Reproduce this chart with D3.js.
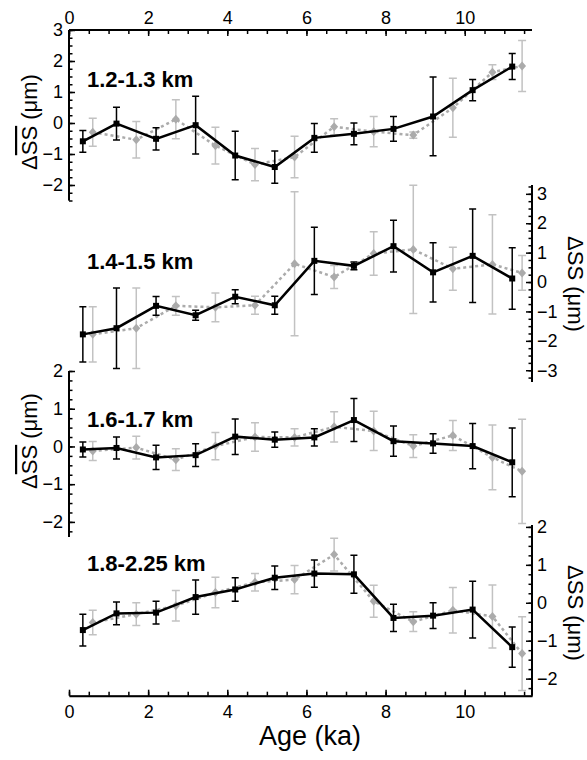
<!DOCTYPE html>
<html>
<head>
<meta charset="utf-8">
<script src="https://cdn.jsdelivr.net/npm/d3@7"></script>
<style>
  body { margin: 0; background: #fff; }
  svg { display: block; font-family: Arial, "Liberation Sans", sans-serif; }
</style>
</head>
<body>
<svg id="chart" width="587" height="760"></svg>
<script>
// ages of the two series (ka)
const ageBlack = [0.35, 1.2, 2.2, 3.2, 4.2, 5.2, 6.2, 7.2, 8.2, 9.2, 10.2, 11.2]
const ageGray = [0.6, 1.7, 2.7, 3.7, 4.7, 5.7, 6.7, 7.7, 8.7, 9.7, 10.7, 11.45]

const titles = ['1.2-1.3 km', '1.4-1.5 km', '1.6-1.7 km', '1.8-2.25 km']

// 1.2-1.3 km
const p1Black = [-0.59, -0.02, -0.51, -0.07, -1.05, -1.42, -0.48, -0.35, -0.19, 0.21, 1.06, 1.82]
const p1BlackErr = [0.35, 0.53, 0.36, 0.93, 0.78, 0.52, 0.46, 0.35, 0.4, 1.27, 0.34, 0.42]
const p1Gray = [-0.3, -0.54, 0.12, -0.73, -1.34, -1.1, -0.12, -0.28, -0.39, 0.49, 1.64, 1.84]
const p1GrayErr = [0.45, 0.59, 0.63, 0.59, 0.52, 0.67, 0.26, 0.49, 0.1, 0.95, 0.24, 0.82]

// 1.4-1.5 km
const p2Black = [-1.78, -1.57, -0.81, -1.13, -0.5, -0.79, 0.72, 0.55, 1.22, 0.33, 0.89, 0.12]
const p2BlackErr = [0.94, 1.37, 0.32, 0.17, 0.24, 0.31, 1.14, 0.13, 0.88, 1.01, 1.59, 1.05]
const p2Gray = [-1.78, -1.57, -0.81, -0.86, -0.79, 0.62, 0.17, 0.97, 1.11, 0.45, 0.6, 0.31]
const p2GrayErr = [0.94, 1.37, 0.32, 0.49, 0.31, 2.45, 0.39, 0.74, 2.18, 0.73, 1.69, 0.59]

// 1.6-1.7 km
const p3Black = [-0.08, -0.04, -0.29, -0.23, 0.26, 0.18, 0.24, 0.7, 0.14, 0.08, 0.01, -0.42]
const p3BlackErr = [0.2, 0.29, 0.32, 0.3, 0.47, 0.2, 0.23, 0.57, 0.4, 0.26, 0.6, 0.91]
const p3Gray = [-0.12, -0.03, -0.35, 0.01, 0.25, 0.24, 0.52, 0.41, 0.01, 0.29, -0.29, -0.66]
const p3GrayErr = [0.25, 0.3, 0.29, 0.36, 0.38, 0.23, 0.4, 0.52, 0.3, 0.4, 0.86, 1.38]

// 1.8-2.25 km
const p4Black = [-0.72, -0.28, -0.26, 0.15, 0.35, 0.66, 0.77, 0.75, -0.4, -0.34, -0.18, -1.17]
const p4BlackErr = [0.42, 0.3, 0.3, 0.45, 0.31, 0.31, 0.36, 0.5, 0.36, 0.34, 0.75, 0.53]
const p4Gray = [-0.52, -0.3, -0.08, 0.27, 0.54, 0.61, 1.27, 0.04, -0.5, -0.2, -0.36, -1.34]
const p4GrayErr = [0.32, 0.3, 0.4, 0.4, 0.23, 0.37, 0.43, 0.42, 0.26, 0.6, 0.83, 0.97]

const xTicks = [0, 2, 4, 6, 8, 10]
const yTicks1 = [-2, -1, 0, 1, 2, 3]
const yTicks2 = [-3, -2, -1, 0, 1, 2, 3]
const yTicks3 = [-2, -1, 0, 1, 2]
const yTicks4 = [-2, -1, 0, 1, 2]

const svg = d3.select('#chart')
const x = d3.scaleLinear().domain([0, 11.7]).range([69, 532])
const axisLeftX = 69
const axisRightX = 532

const panels = [
  { title: titles[0], black: p1Black, blackErr: p1BlackErr, gray: p1Gray, grayErr: p1GrayErr,
    domain: [-2.5, 3], range: [200.5, 30], ticks: yTicks1, side: 'left', titleY: 87, labelY: 122 },
  { title: titles[1], black: p2Black, blackErr: p2BlackErr, gray: p2Gray, grayErr: p2GrayErr,
    domain: [-3.4, 3.3], range: [382, 185], ticks: yTicks2, side: 'right', titleY: 269, labelY: 284 },
  { title: titles[2], black: p3Black, blackErr: p3BlackErr, gray: p3Gray, grayErr: p3GrayErr,
    domain: [-2.4, 2], range: [537, 371], ticks: yTicks3, side: 'left', titleY: 427, labelY: 441 },
  { title: titles[3], black: p4Black, blackErr: p4BlackErr, gray: p4Gray, grayErr: p4GrayErr,
    domain: [-2.45, 2.05], range: [695.7, 525], ticks: yTicks4, side: 'right', titleY: 571, labelY: 613 }
]

function styleAxis (g) {
  g.select('.domain').attr('stroke', '#000').attr('stroke-width', 2)
  g.selectAll('.tick line').attr('stroke', '#000').attr('stroke-width', 1.5)
  g.selectAll('.tick text').attr('fill', '#000').style('font-size', '18px')
}

// x axes (top and bottom)
const minorX = d3.range(0, 11.6, 0.5)
const topAxis = svg.append('g').attr('transform', 'translate(0,30)')
topAxis.call(d3.axisTop(x).tickValues(minorX).tickSize(-4).tickSizeOuter(0).tickFormat(''))
topAxis.append('g').call(d3.axisTop(x).tickValues(xTicks).tickSize(-6).tickSizeOuter(0).tickPadding(6).tickFormat(d3.format('d')))
topAxis.selectAll('.domain').attr('d', `M${x.range()[0]},0H${x.range()[1]}`)
styleAxis(topAxis)

const bottomAxis = svg.append('g').attr('transform', 'translate(0,695.7)')
bottomAxis.call(d3.axisBottom(x).tickValues(minorX).tickSize(-4).tickSizeOuter(0).tickFormat(''))
bottomAxis.append('g').call(d3.axisBottom(x).tickValues(xTicks).tickSize(-6).tickSizeOuter(0).tickPadding(10).tickFormat(d3.format('d')))
styleAxis(bottomAxis)

svg.append('text')
  .attr('x', 310).attr('y', 745)
  .attr('text-anchor', 'middle')
  .style('font-size', '27px')
  .text('Age (ka)')

panels.forEach((p) => {
  const y = d3.scaleLinear().domain(p.domain).range(p.range)
  const g = svg.append('g')
  const left = p.side === 'left'

  // y axis with minor ticks every 0.25
  const minorY = d3.range(Math.ceil(p.domain[0] * 4) / 4, p.domain[1] + 0.001, 0.25)
  const ax = g.append('g').attr('transform', `translate(${left ? axisLeftX : axisRightX},0)`)
  const mk = left ? d3.axisLeft : d3.axisRight
  ax.call(mk(y).tickValues(minorY).tickSize(-3.5).tickSizeOuter(0).tickFormat(''))
  ax.append('g').call(mk(y).tickValues(p.ticks).tickSize(-6).tickSizeOuter(0).tickPadding(left ? 6 : 5).tickFormat(d3.format('d')))
  ax.selectAll('.domain').attr('d', `M0,${p.range[0]}V${p.range[1]}`)
  styleAxis(ax)

  // axis label
  const lab = g.append('text')
    .style('font-size', '22px')
    .attr('text-anchor', 'middle')
  if (left) {
    lab.attr('transform', `translate(37,${p.labelY}) rotate(-90)`)
    lab.append('tspan').text('Δ')
    lab.append('tspan').style('text-decoration', 'overline').text('SS')
    lab.append('tspan').text(' (μm)')
  } else {
    lab.attr('transform', `translate(568,${p.labelY}) rotate(90)`)
      .text('ΔSS (μm)')
  }

  // panel title
  g.append('text')
    .attr('x', 87).attr('y', p.titleY)
    .style('font-size', '22px')
    .style('font-weight', 'bold')
    .text(p.title)

  const gray = ageGray.map((a, i) => ({ a, v: p.gray[i], e: p.grayErr[i] }))
  const black = ageBlack.map((a, i) => ({ a, v: p.black[i], e: p.blackErr[i] }))

  const line = d3.line().x(d => x(d.a)).y(d => y(d.v))

  // gray series
  const gg = g.append('g')
  gg.selectAll('.eb').data(gray).join('path')
    .attr('fill', 'none').attr('stroke', '#c2c2c2').attr('stroke-width', 1.5)
    .attr('d', d => {
      const x0 = x(d.a); const y0 = y(d.v - d.e); const y1 = y(d.v + d.e)
      return `M${x0},${y0}V${y1}M${x0 - 4},${y0}H${x0 + 4}M${x0 - 4},${y1}H${x0 + 4}`
    })
  gg.append('path').datum(gray)
    .attr('fill', 'none').attr('stroke', '#ababab').attr('stroke-width', 2.5)
    .attr('stroke-dasharray', '3,3')
    .attr('d', line)
  gg.selectAll('.mk').data(gray).join('path')
    .attr('fill', '#ababab')
    .attr('d', d => {
      const cx = x(d.a); const cy = y(d.v)
      return `M${cx},${cy - 4.5}L${cx + 4},${cy}L${cx},${cy + 4.5}L${cx - 4},${cy}Z`
    })

  // black series
  const bg = g.append('g')
  bg.selectAll('.eb').data(black).join('path')
    .attr('fill', 'none').attr('stroke', '#000').attr('stroke-width', 1.5)
    .attr('d', d => {
      const x0 = x(d.a); const y0 = y(d.v - d.e); const y1 = y(d.v + d.e)
      return `M${x0},${y0}V${y1}M${x0 - 3.5},${y0}H${x0 + 3.5}M${x0 - 3.5},${y1}H${x0 + 3.5}`
    })
  bg.append('path').datum(black)
    .attr('fill', 'none').attr('stroke', '#000').attr('stroke-width', 2.5)
    .attr('d', line)
  bg.selectAll('.sq').data(black).join('rect')
    .attr('x', d => x(d.a) - 3).attr('y', d => y(d.v) - 3)
    .attr('width', 6).attr('height', 6)
    .attr('fill', '#000')
})
</script>
</body>
</html>
